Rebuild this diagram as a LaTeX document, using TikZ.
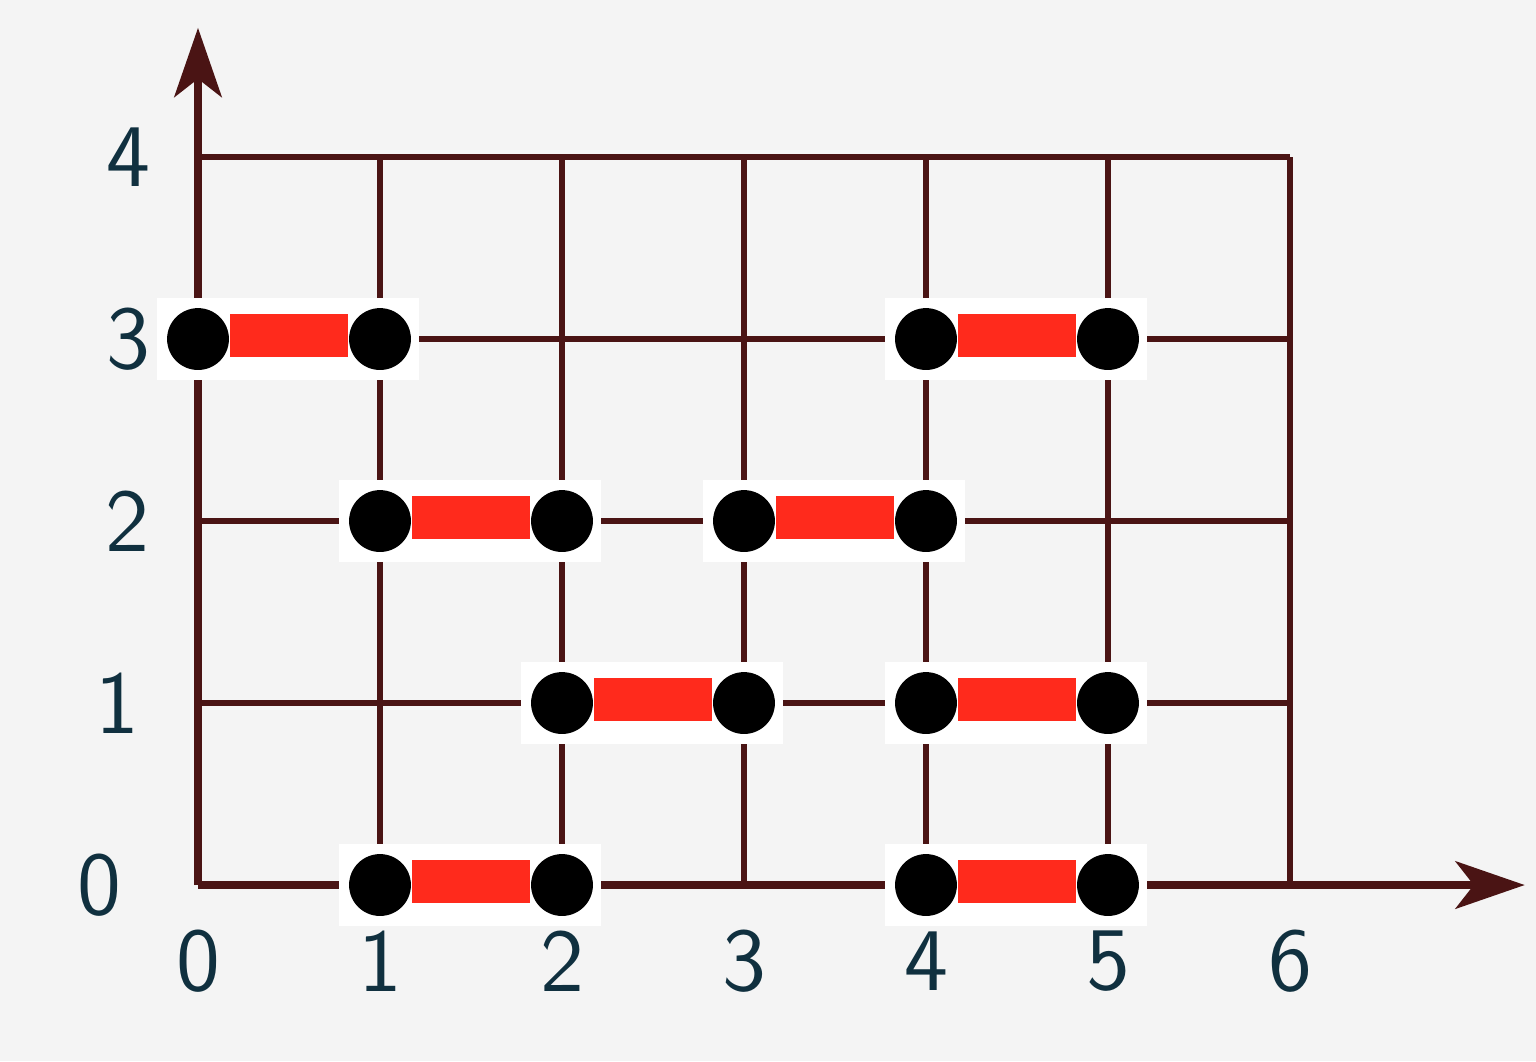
\documentclass[tikz,border=0pt]{standalone}
\usepackage{tikz}
\usetikzlibrary{arrows.meta, positioning}
\definecolor{trazo}{HTML}{4A1414}
\definecolor{papel}{HTML}{F4F4F4}
\definecolor{tinta}{HTML}{10303F}
\definecolor{rojo}{HTML}{FF2A1C}

\begin{document}
\begin{tikzpicture}[scale=1.0,
	atomo/.style={circle, fill=black, minimum size=0.34cm, inner sep=0pt},
	enlace/.style={rojo, line width=0.24cm},
	etiqueta/.style={font=\sffamily\fontsize{14}{16}\selectfont, text=tinta},
	eje/.style={trazo, line width=1.3pt, -{Stealth[length=0.38cm, width=0.26cm, inset=0.1cm]}}]
			% Fondo
			\fill[papel] (-1.088,-0.967) rectangle (7.352,4.863);
			\useasboundingbox (-1.088,-0.967) rectangle (7.352,4.863);

			% Cuadr\'icula
			\draw[trazo, line width=0.95pt] (0,0) grid (6,4);

			% Ejes
			\coordinate (origen) at (0,0);
			\coordinate (finx) at (7.29,0);
			\coordinate (finy) at (0,4.71);
			\draw[eje] (origen) -- (finx);
			\draw[eje] (origen) -- (finy);

			% Etiquetas
			\foreach \i in {0,...,6}
				\node[etiqueta] (ex\i) at (\i,-0.42) {\i};
			\foreach \j/\px in {0/-0.54, 1/-0.44, 2/-0.39, 3/-0.38, 4/-0.38}
				\node[etiqueta] (ey\j) at (\px,\j) {\j};

			% D\'imeros
			\foreach \a/\b/\y [count=\k] in {0/1/3, 4/5/3, 1/2/2, 3/4/2, 2/3/1, 4/5/1, 1/2/0, 4/5/0} {
				\fill[white] (\a-0.225,\y-0.225) rectangle (\b+0.215,\y+0.225);
				\node[atomo] (izq\k) at (\a,\y) {};
				\node[atomo] (der\k) at (\b,\y) {};
				\draw[enlace] ([yshift=0.02cm]izq\k.east) -- ([yshift=0.02cm]der\k.west);
			}
		\end{tikzpicture}
\end{document}
